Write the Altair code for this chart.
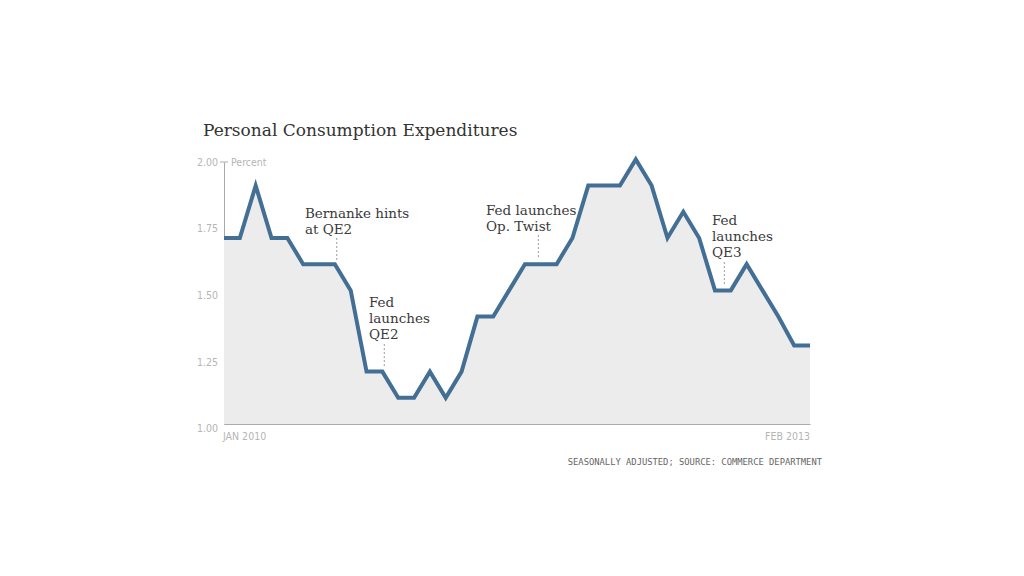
import altair as alt
import pandas as pd

# ---------------- data ----------------
months = [d.strftime("%b %Y").upper() for d in pd.date_range("2010-01-01", periods=38, freq="MS")]
pce = [1.71, 1.71, 1.91, 1.71, 1.71, 1.61, 1.61, 1.61, 1.51, 1.20,
       1.20, 1.10, 1.10, 1.20, 1.10, 1.20, 1.41, 1.41, 1.51, 1.61,
       1.61, 1.61, 1.71, 1.91, 1.91, 1.91, 2.01, 1.91, 1.71, 1.81,
       1.71, 1.51, 1.51, 1.61, 1.51, 1.41, 1.30, 1.30]
y_ticks = [1.00, 1.25, 1.50, 1.75, 2.00]

title_text = "Personal Consumption Expenditures"
unit_text = "Percent"
source_text = "SEASONALLY ADJUSTED; SOURCE: COMMERCE DEPARTMENT"

# annotation text lines (month index, value at baseline)
ann_text = ["Bernanke hints", "at QE2", "Fed", "launches", "QE2",
            "Fed launches", "Op. Twist", "Fed", "launches", "QE3"]
ann_text_x = [5.11, 5.11, 9.155, 9.155, 9.155, 16.54, 16.54, 30.81, 30.81, 30.81]
ann_text_y = [1.786, 1.725, 1.448, 1.387, 1.326, 1.798, 1.737, 1.760, 1.698, 1.637]

# dotted leader lines
lead_x = [7.12, 10.12, 19.85, 31.59]
lead_y1 = [1.710, 1.305, 1.721, 1.618]
lead_y2 = [1.626, 1.218, 1.637, 1.534]

df = pd.DataFrame({"i": list(range(len(pce))), "month": months, "pce": pce})
ann_df = pd.DataFrame({"x": ann_text_x, "y": ann_text_y, "t": ann_text})
lead_df = pd.DataFrame({"x": lead_x, "y1": lead_y1, "y2": lead_y2})
ytick_df = pd.DataFrame({"v": y_ticks})
txt_df = pd.DataFrame({"title": [title_text], "unit": [unit_text], "src": [source_text]})

W, H = 586, 262
LINE = "#436f95"
GRAY_LABEL = "#b5b5b5"
AXIS = "#aaaaaa"
SERIF = "DejaVu Serif"
NARROW = "Liberation Sans Narrow, DejaVu Sans Condensed, Roboto"

xs = alt.Scale(domain=[0, 37], nice=False, zero=False)
ys = alt.Scale(domain=[1, 2], nice=False, zero=False)
ax = alt.Axis(labels=False, ticks=False, grid=False, title=None,
              domainColor=AXIS, domainWidth=1)

X = lambda f: alt.X(f, type="quantitative", scale=xs, axis=ax)
Y = lambda f: alt.Y(f, type="quantitative", scale=ys, axis=ax)

area = alt.Chart(df).mark_area(color="#ececec").encode(
    x=X("i"), y=Y("pce"), y2=alt.datum(1),
)

line = alt.Chart(df).mark_line(color=LINE, strokeWidth=4, strokeJoin="miter").encode(
    x=X("i"), y=Y("pce")
)

leaders = alt.Chart(lead_df).mark_rule(color="#9a9a9a", strokeWidth=1, strokeDash=[2, 2]).encode(
    x=X("x"), y=Y("y1"), y2="y2:Q"
)

ann = alt.Chart(ann_df).mark_text(
    align="left", baseline="alphabetic", font=SERIF, fontSize=13.5, color="#3a3a3a"
).encode(x=X("x"), y=Y("y"), text="t:N")

# y tick labels (slightly stretched placement as in the original)
ylab = alt.Chart(ytick_df).transform_calculate(
    yp="2 - ((2 - datum.v) * 266.5 + 0.7) / 262",
    lab="format(datum.v, '.2f')",
).mark_text(
    align="right", baseline="middle", font=NARROW, fontSize=10.5, color=GRAY_LABEL
).encode(x=alt.value(-6), y=Y("yp"), text="lab:N")

top_tick = alt.Chart(ytick_df).transform_filter("datum.v == 2").mark_rule(
    color=AXIS, strokeWidth=1
).encode(x=alt.value(-4), x2=alt.value(4), y=Y("v"))

unit = alt.Chart(txt_df).mark_text(
    align="left", baseline="middle", font=NARROW, fontSize=10.5, color=GRAY_LABEL
).encode(x=alt.value(7), y=alt.value(0.7), text="unit:N")

xl_first = alt.Chart(df).transform_filter("datum.i == 0").mark_text(
    align="left", baseline="middle", font=NARROW, fontSize=10.5, color=GRAY_LABEL, dx=-1
).encode(x=X("i"), y=alt.value(H + 13), text="month:N")

xl_last = alt.Chart(df).transform_filter("datum.i == 37").mark_text(
    align="right", baseline="middle", font=NARROW, fontSize=10.5, color=GRAY_LABEL
).encode(x=X("i"), y=alt.value(H + 13), text="month:N")

title = alt.Chart(txt_df).mark_text(
    align="left", baseline="alphabetic", font=SERIF, fontSize=17, color="#333333"
).encode(x=alt.value(-21), y=alt.value(-26), text="title:N")

source = alt.Chart(txt_df).mark_text(
    align="right", baseline="middle", font="DejaVu Sans Mono", fontSize=8.8, color="#666666"
).encode(x=alt.value(598), y=alt.value(H + 38), text="src:N")

chart = alt.layer(
    area, line, leaders, ann, ylab, top_tick, unit, xl_first, xl_last, title, source
).properties(
    width=W, height=H,
    autosize=alt.AutoSizeParams(type="none"),
    padding={"left": 216, "top": 154, "right": 200, "bottom": 130},
).configure(background="white", view=alt.ViewConfig(strokeWidth=0, stroke=None))

chart.save("out.html", embed_options={"renderer": "svg", "actions": False})
